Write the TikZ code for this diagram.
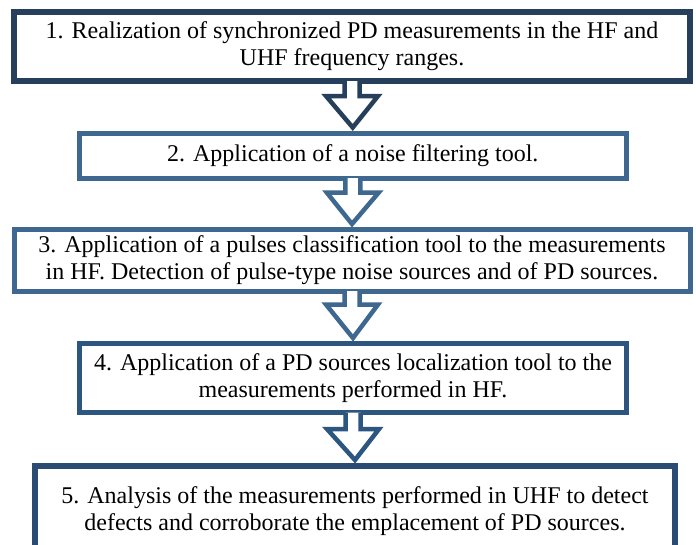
\documentclass[tikz,border=0pt]{standalone}
\usepackage{fontspec}
\setmainfont{Liberation Serif}
\usetikzlibrary{calc}
\definecolor{cone}{HTML}{263F5B}
\definecolor{ctwo}{HTML}{3E6890}
\definecolor{cfour}{HTML}{2C5580}
\definecolor{cfive}{HTML}{2A4C72}
\newcommand{\blockarrow}[4]{%
  \fill[white] ($(#1.south)+(-7.5,-#4)$) -- ($(#1.south)+(-7.5,#2)$) -- ($(#1.south)+(-26,#2)$) -- ($(#3.north)+(0,-3)$) -- ($(#1.south)+(26,#2)$) -- ($(#1.south)+(7.5,#2)$) -- ($(#1.south)+(7.5,-#4)$) -- cycle;
}
\newcommand{\blockarrowline}[5]{%
  \draw[#4, line width=4.5pt, line join=miter] ($(#1.south)+(-7.5,-#5)$) -- ($(#1.south)+(-7.5,#2)$) -- ($(#1.south)+(-26,#2)$) -- ($(#3.north)+(0,-3)$) -- ($(#1.south)+(26,#2)$) -- ($(#1.south)+(7.5,#2)$) -- ($(#1.south)+(7.5,-#5)$);
}
\begin{document}
\begin{tikzpicture}[x=1pt,y=-1pt,
  box/.style={draw, fill=white, rectangle, inner sep=0pt, align=center,
    font=\fontsize{24}{27}\selectfont, text=black}]
\useasboundingbox (0,0) rectangle (696,544);
\clip (0,0) rectangle (696,544);
\fill[white] (0,0) rectangle (696,544);
\node[box, draw=cone, line width=6pt, minimum width=676pt, minimum height=69pt] (b1) at (352,46.5)
  {1. Realization of synchronized PD measurements in the HF and\\UHF frequency ranges.};
\node[box, draw=ctwo, line width=5pt, minimum width=546.5pt, minimum height=45pt] (b2) at (352.75,155.5)
  {2. Application of a noise filtering tool.};
\node[box, draw=ctwo, line width=5pt, minimum width=676pt, minimum height=61.5pt] (b3) at (352,260.25)
  {3. Application of a pulses classification tool to the measurements\\in HF. Detection of pulse-type noise sources and of PD sources.};
\node[box, draw=cfour, line width=5pt, minimum width=547pt, minimum height=69pt] (b4) at (353,378)
  {4. Application of a PD sources localization tool to the\\measurements performed in HF.};
\node[box, draw=cfive, line width=6pt, minimum width=640pt, minimum height=90pt] (b5) at (355,511)
  {5. Analysis of the measurements performed in UHF to detect\\defects and corroborate the emplacement of PD sources.};
\blockarrow{b1}{12}{b2}{3}
\blockarrowline{b1}{12}{b2}{cone}{3}
\blockarrow{b2}{12}{b3}{2.5}
\blockarrowline{b2}{12}{b3}{ctwo}{2.5}
\blockarrow{b3}{11}{b4}{2.5}
\blockarrowline{b3}{11}{b4}{ctwo}{2.5}
\blockarrow{b4}{14}{b5}{2.5}
\blockarrowline{b4}{14}{b5}{cfour}{2.5}
\end{tikzpicture}
\end{document}
